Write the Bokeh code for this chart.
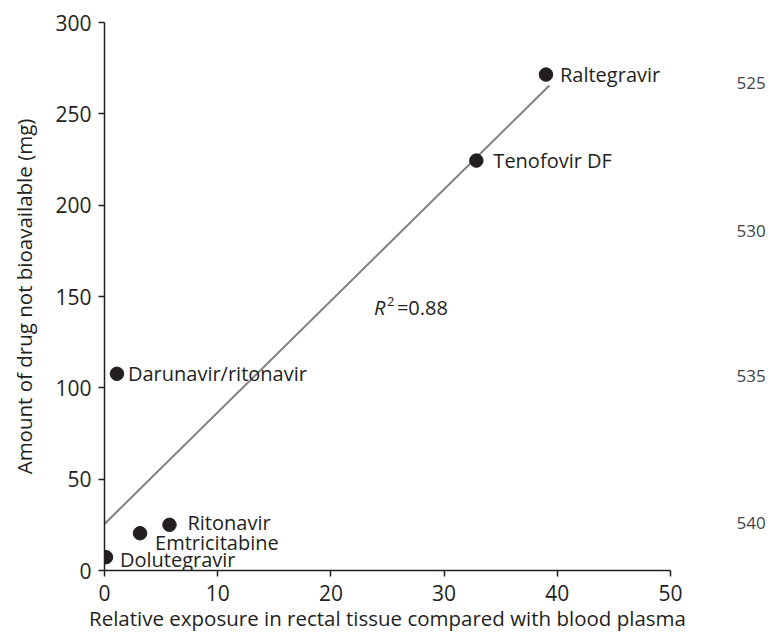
from bokeh.plotting import figure
from bokeh.models import ColumnDataSource, Range1d, Label, FixedTicker, LinearAxis
from bokeh.core.properties import value
from bokeh.embed import file_html
from bokeh.resources import INLINE

# ---- data ----
drugs = ["Raltegravir", "Tenofovir DF", "Darunavir/ritonavir", "Ritonavir", "Emtricitabine", "Dolutegravir"]
rel_exposure = [39.0, 32.85, 1.1, 5.74, 3.14, 0.13]
not_bioavailable_mg = [271.5, 224.4, 107.7, 25.0, 20.4, 7.3]
fit_x = [0.0, 39.3]
fit_y = [25.5, 265.5]
r_squared = "0.88"
x_ticks = [0, 10, 20, 30, 40, 50]
y_ticks = [0, 50, 100, 150, 200, 250, 300]
line_numbers = ["525", "530", "535", "540"]
line_number_y = [267.0, 186.0, 106.7, 25.9]

# ---- style ----
FONT = "Open Sans"
INK = "#231f20"
label_dx = [14, 17, 11, 18, 15, 14]
label_dy = [0, 0, 0, -2, 9, 2]

p = figure(frame_width=566, frame_height=548, output_backend="svg", toolbar_location=None,
           x_range=Range1d(0, 50), y_range=Range1d(0, 300),
           min_border_left=104, min_border_right=0, min_border_top=22, min_border_bottom=62)
p.outline_line_color = None
p.grid.visible = False
p.background_fill_color = "white"
p.border_fill_color = "white"

for ax in (p.xaxis[0], p.yaxis[0]):
    ax.axis_line_color = INK
    ax.axis_line_width = 1.5
    ax.major_tick_line_color = INK
    ax.major_tick_line_width = 1.5
    ax.major_tick_out = 6
    ax.major_tick_in = 0
    ax.minor_tick_line_color = None
    ax.major_label_text_font = FONT
    ax.major_label_text_font_size = "21px"
    ax.major_label_text_color = INK
    ax.axis_label_text_font = FONT
    ax.axis_label_text_font_size = "20.5px"
    ax.axis_label_text_font_style = "normal"
    ax.axis_label_text_color = INK

p.xaxis.ticker = FixedTicker(ticks=x_ticks)
p.yaxis.ticker = FixedTicker(ticks=y_ticks)
p.xaxis.axis_label = "Relative exposure in rectal tissue compared with blood plasma"
p.yaxis.axis_label = "Amount of drug not bioavailable (mg)"
p.xaxis.major_label_standoff = 8
p.xaxis.axis_label_standoff = 0
p.yaxis.major_label_standoff = 7
p.yaxis.axis_label_standoff = 14

# manuscript line numbers in the right margin, as label-only axis
ln_axis = LinearAxis(ticker=FixedTicker(ticks=line_number_y),
                     major_label_overrides={y: t for y, t in zip(line_number_y, line_numbers)},
                     axis_line_color=None, major_tick_line_color=None, minor_tick_line_color=None,
                     major_label_standoff=60, major_label_text_font=FONT,
                     major_label_text_font_size="17px", major_label_text_color="#444444")
p.add_layout(ln_axis, "right")

p.line(fit_x, fit_y, line_color="#808080", line_width=2)

src = ColumnDataSource(dict(x=rel_exposure, y=not_bioavailable_mg, name=drugs,
                            dx=label_dx, dy=label_dy))
p.scatter("x", "y", source=src, size=13.5, fill_color=INK, line_color=INK)
p.text("x", "y", text="name", source=src, x_offset="dx", y_offset="dy",
       text_font=value(FONT), text_font_size="20px", text_color=INK,
       text_align="left", text_baseline="middle")

# R^2 annotation
r_x, r_y = 23.8, 144.0
p.add_layout(Label(x=r_x, y=r_y, text="R", text_font=FONT, text_font_size="20px",
                   text_font_style="italic", text_color=INK, text_baseline="middle"))
p.add_layout(Label(x=r_x, y=r_y, x_offset=13, y_offset=6, text="2", text_font=FONT,
                   text_font_size="13px", text_color=INK, text_baseline="middle"))
p.add_layout(Label(x=r_x, y=r_y, x_offset=23, text="=" + r_squared, text_font=FONT,
                   text_font_size="20px", text_color=INK, text_baseline="middle"))

open("out.html", "w").write(file_html(p, INLINE))
